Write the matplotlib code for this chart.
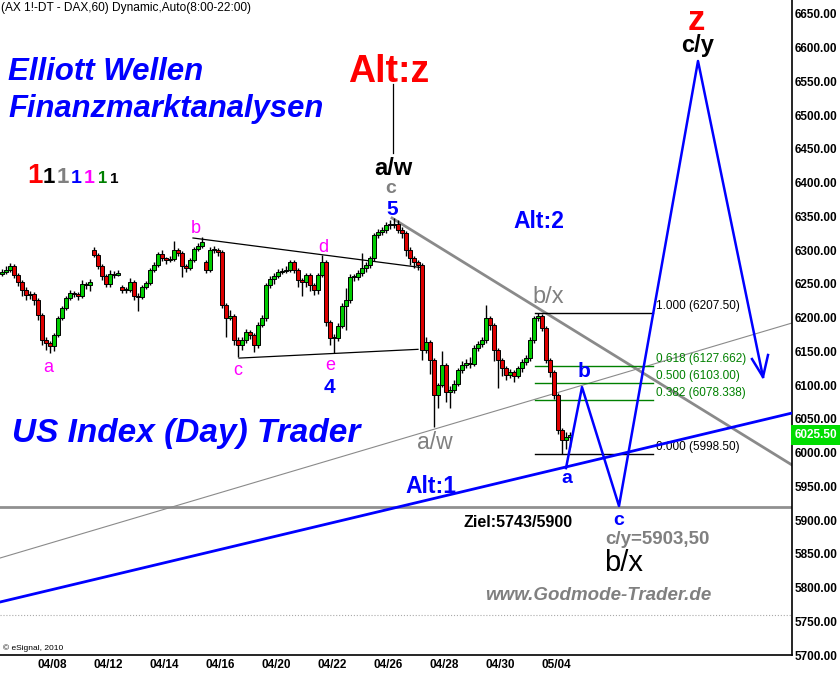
import numpy as np
import matplotlib
matplotlib.use("Agg")
import matplotlib.pyplot as plt

plt.rcParams["font.family"] = ["Liberation Sans", "DejaVu Sans"]

W, H = 840, 674

# 2-hour candles (closes, highs, lows), DAX future, Apr/May 2010
closes = [6268, 6271, 6277, 6263, 6253, 6241, 6234, 6235, 6226, 6204,
          6167, 6162, 6158, 6174, 6199, 6214, 6229, 6237, 6235, 6232,
          6250, 6248, 6253, 6293, 6277, 6262, 6250, 6265, 6263, 6266,
          6241, 6241, 6253, 6232, 6231, 6245, 6251, 6271, 6278, 6294,
          6288, 6285, 6287, 6300, 6296, 6277, 6274, 6285, 6302, 6306,
          6312, 6271, 6300, 6300, 6297, 6219, 6199, 6202, 6167, 6159,
          6167, 6179, 6174, 6159, 6189, 6199, 6248, 6257, 6262, 6268,
          6269, 6271, 6282, 6271, 6256, 6253, 6263, 6248, 6241, 6263,
          6282, 6194, 6170, 6170, 6188, 6217, 6226, 6260, 6260, 6266,
          6274, 6278, 6288, 6322, 6327, 6330, 6337, 6337, 6339, 6330,
          6325, 6300, 6288, 6282, 6278, 6152, 6164, 6137, 6085, 6100,
          6130, 6090, 6093, 6102, 6122, 6130, 6133, 6131, 6155, 6161,
          6167, 6199, 6189, 6152, 6137, 6125, 6115, 6119, 6113, 6125,
          6134, 6140, 6167, 6199, 6202, 6185, 6137, 6119, 6085, 6033,
          6019, 6023, 6025.5]
highs = [6272, 6276, 6281, 6279, 6266, 6256, 6245, 6240, 6238, 6229,
         6207, 6172, 6166, 6177, 6202, 6217, 6232, 6241, 6240, 6238,
         6256, 6253, 6257, 6304, 6296, 6280, 6265, 6270, 6269, 6270,
         6249, 6246, 6258, 6256, 6236, 6249, 6255, 6274, 6282, 6297,
         6300, 6290, 6291, 6313, 6303, 6299, 6279, 6288, 6305, 6310,
         6319, 6285, 6304, 6306, 6303, 6300, 6222, 6212, 6205, 6172,
         6172, 6183, 6182, 6177, 6193, 6204, 6252, 6261, 6266, 6272,
         6274, 6276, 6286, 6285, 6274, 6259, 6266, 6266, 6251, 6266,
         6293, 6285, 6196, 6175, 6192, 6221, 6244, 6264, 6265, 6270,
         6296, 6282, 6292, 6326, 6331, 6335, 6341, 6344, 6348, 6344,
         6334, 6328, 6304, 6292, 6286, 6281, 6172, 6167, 6140, 6103,
         6150, 6133, 6098, 6108, 6126, 6135, 6138, 6142, 6160, 6166,
         6172, 6219, 6202, 6192, 6155, 6140, 6128, 6124, 6122, 6129,
         6138, 6144, 6171, 6203, 6207.5, 6205, 6188, 6140, 6122, 6088,
         6036, 6030, 6031]
lows = [6262, 6265, 6268, 6258, 6247, 6232, 6226, 6228, 6218, 6196,
        6160, 6152, 6148, 6151, 6171, 6196, 6211, 6226, 6230, 6226,
        6229, 6243, 6240, 6290, 6272, 6256, 6245, 6246, 6259, 6261,
        6236, 6236, 6238, 6226, 6210, 6227, 6242, 6248, 6268, 6275,
        6284, 6280, 6282, 6284, 6291, 6260, 6268, 6271, 6282, 6299,
        6303, 6266, 6268, 6296, 6292, 6214, 6172, 6196, 6160, 6141,
        6152, 6163, 6168, 6149, 6155, 6186, 6195, 6244, 6250, 6258,
        6264, 6266, 6268, 6266, 6245, 6232, 6245, 6240, 6234, 6235,
        6260, 6188, 6160, 6148, 6165, 6184, 6182, 6222, 6255, 6256,
        6262, 6268, 6274, 6284, 6318, 6322, 6326, 6331, 6333, 6326,
        6318, 6292, 6278, 6274, 6271, 6137, 6147, 6117, 6038, 6066,
        6097, 6075, 6066, 6088, 6098, 6118, 6125, 6125, 6128, 6150,
        6156, 6163, 6182, 6135, 6095, 6113, 6107, 6110, 6105, 6110,
        6120, 6130, 6136, 6163, 6195, 6180, 6132, 6112, 6080, 6028,
        5998.5, 6005, 6008]
first_open = 6265
gap_opens = {23: 6300, 30: 6245, 51: 6282}

date_labels = ["04/08", "04/12", "04/14", "04/16", "04/20",
               "04/22", "04/26", "04/28", "04/30", "05/04"]
date_pos = [12.5, 26.5, 40.5, 54.5, 68.5, 82.5, 96.5, 110.5, 124.5, 138.5]
price_ticks = list(range(5700, 6651, 50))

fib_prices = [6207.5, 6127.662, 6103.0, 6078.338, 5998.5]
fib_labels = ["1.000 (6207.50)", "0.618 (6127.662)", "0.500 (6103.00)",
              "0.382 (6078.338)", "0.000 (5998.50)"]
fib_colors = ["black", "#008000", "#008000", "#008000", "black"]

# drawn lines, (candle index, price)
tri_up_k, tri_up_p = [47.75, 105], [6318, 6274]
tri_lo_k, tri_lo_p = [59.25, 104], [6140, 6153]
down_k, down_p = [97.5, 197.5], [6347.6, 5981.6]
thin_k, thin_p = [-0.5, 197.5], [5843.7, 6192]
trend_k, trend_p = [-0.5, 197.5], [5778.5, 6058.6]
target_level = 5919.3
dotted_level = 5759.6
path_k = [141, 145, 154.25, 174, 190.25]
path_p = [5977, 6097, 5920.8, 6580.3, 6112]
arrow_k = [187.5, 190.25, 191.5]
arrow_p = [6138.6, 6112, 6144.6]
altz_k, altz_p = [97.75, 97.75], [6546, 6444]

fig = plt.figure(figsize=(W / 100, H / 100), dpi=100)
ax = fig.add_axes([0, 19 / H, 792 / W, 655 / H])
ax.set_xlim(-0.5, 197.5)
ax.set_ylim(5700, 6670.7)

c = np.array(closes, dtype=float)
o = np.r_[first_open, c[:-1]]
for i, v in gap_opens.items():
    o[i] = v
k = np.arange(len(c))
up = c >= o
body_lo = np.minimum(o, c)
body_h = np.maximum(np.abs(c - o), 1.5)
ax.vlines(k, lows, highs, color="black", lw=1, zorder=3)
ax.bar(k, body_h, bottom=body_lo, width=0.8,
       color=np.where(up, "#00cc00", "#dd0000"), edgecolor="black",
       linewidth=0.7, zorder=4)

ax.plot(tri_up_k, tri_up_p, color="black", lw=0.9, zorder=2)
ax.plot(tri_lo_k, tri_lo_p, color="black", lw=0.9, zorder=2)
ax.plot(down_k, down_p, color="#8a8a8a", lw=2.0, zorder=2)
ax.plot(thin_k, thin_p, color="#8a8a8a", lw=0.8, zorder=2)
ax.plot(trend_k, trend_p, color="#0000ff", lw=2.0, zorder=5)
ax.axhline(target_level, color="#909090", lw=2.0, zorder=1)
ax.axhline(dotted_level, color="#aaaaaa", lw=0.8, ls=":", zorder=1)
ax.plot(path_k, path_p, color="#0000ff", lw=1.8, zorder=5)
ax.plot(arrow_k, arrow_p, color="#0000ff", lw=1.8, zorder=5)
ax.plot(altz_k, altz_p, color="black", lw=0.9)

for p, lab, col in zip(fib_prices, fib_labels, fib_colors):
    ax.plot([133.25, 162.75], [p, p], color=col, lw=1.0, zorder=2)
    ax.annotate(lab, (163.5, p), xytext=(0, 5), textcoords="offset points",
                va="center", ha="left", fontsize=8.5, color=col)

for s in ["top", "left"]:
    ax.spines[s].set_visible(False)
ax.spines["right"].set_linewidth(1.2)
ax.spines["bottom"].set_linewidth(1.2)
ax.yaxis.tick_right()
ax.set_yticks(price_ticks)
ax.set_yticklabels([f"{v:.2f}" for v in price_ticks], fontsize=8.5,
                   fontweight="bold")
ax.set_xticks(date_pos)
ax.set_xticklabels(date_labels, fontsize=8.5, fontweight="bold")
ax.tick_params(axis="y", length=0, pad=2)
ax.tick_params(axis="x", length=0, pad=3)


def ftext(x, y, s, **kw):
    fig.text(x / W, 1 - y / H, s, **kw)


ftext(1, 8, "(AX 1!-DT - DAX,60) Dynamic,Auto(8:00-22:00)", fontsize=8.6,
      va="center")
ftext(8, 80, "Elliott Wellen", fontsize=22.5, color="#0000ff",
      fontweight="bold", style="italic", va="baseline")
ftext(8, 117, "Finanzmarktanalysen", fontsize=22.3, color="#0000ff",
      fontweight="bold", style="italic", va="baseline")
ftext(12, 442, "US Index (Day) Trader", fontsize=24, color="#0000ff",
      fontweight="bold", style="italic", va="baseline")
ftext(485, 600, "www.Godmode-Trader.de", fontsize=13.5, color="#808080",
      fontweight="bold", style="italic", va="baseline")

ones = [(27, 183, "#ff0000", 20), (43, 183, "black", 16), (57, 183, "#808080", 16),
        (71, 183, "#0000ff", 14), (84, 183, "#ff00ff", 14),
        (98, 183, "#008000", 12), (110, 183, "black", 11)]
for x, y, col, fs in ones:
    ftext(x, y, "1", fontsize=fs, color=col, fontweight="bold", va="baseline")

for x, y, s in [(48, 372, "a"), (196, 233, "b"), (238, 375, "c"),
                (323, 252, "d"), (330, 370, "e")]:
    ftext(x, y, s, fontsize=13, color="#ff00ff", ha="center", va="baseline")

ftext(329, 393, "4", fontsize=15, color="#0000ff", fontweight="bold",
      ha="center", va="baseline")
ftext(392, 215, "5", fontsize=15, color="#0000ff", fontweight="bold",
      ha="center", va="baseline")
ftext(391, 193, "c", fontsize=14, color="#808080", fontweight="bold",
      ha="center", va="baseline")
ftext(393, 175, "a/w", fontsize=17, color="black", fontweight="bold",
      ha="center", va="baseline")
ftext(348, 82, "Alt:z", fontsize=27, color="#ff0000", fontweight="bold",
      va="baseline")
ftext(513, 228, "Alt:2", fontsize=16.5, color="#0000ff", fontweight="bold",
      va="baseline")
ftext(405, 493, "Alt:1", fontsize=16.5, color="#0000ff", fontweight="bold",
      va="baseline")
ftext(532, 303, "b/x", fontsize=17, color="#808080", va="baseline")
ftext(417, 449, "a/w", fontsize=16.5, color="#808080", va="baseline")
ftext(584, 377, "b", fontsize=15, color="#0000ff", fontweight="bold",
      ha="center", va="baseline")
ftext(567, 483, "a", fontsize=14, color="#0000ff", fontweight="bold",
      ha="center", va="baseline")
ftext(619, 525, "c", fontsize=14, color="#0000ff", fontweight="bold",
      ha="center", va="baseline")
ftext(463, 527, "Ziel:5743/5900", fontsize=11.5, color="black",
      fontweight="bold", va="baseline")
ftext(605, 544, "c/y=5903,50", fontsize=13.5, color="#808080",
      fontweight="bold", va="baseline")
ftext(604, 571, "b/x", fontsize=21, color="black", va="baseline")
ftext(696, 30, "z", fontsize=25, color="#ff0000", fontweight="bold",
      ha="center", va="baseline")
ftext(698, 52, "c/y", fontsize=17, color="black", fontweight="bold",
      ha="center", va="baseline")
ftext(3, 648, "\u00a9 eSignal, 2010", fontsize=6, va="center")
ftext(816, 435, "6025.50", fontsize=8.5, color="white", fontweight="bold",
      ha="center", va="center",
      bbox=dict(boxstyle="square,pad=0.3", fc="#00dd00", ec="none"))

fig.savefig("out.png", dpi=100)
